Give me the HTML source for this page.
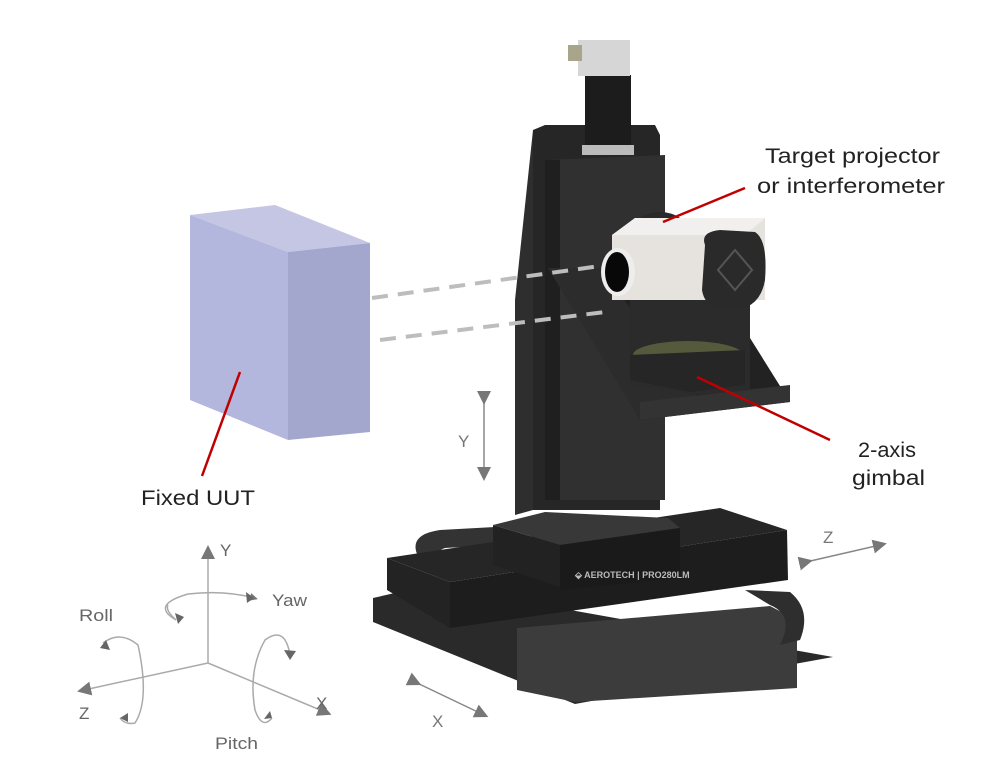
<!DOCTYPE html>
<html><head><meta charset="utf-8"><style>
html,body{margin:0;padding:0;background:#fff;}
svg{display:block;font-family:"Liberation Sans",sans-serif;}
</style></head><body>
<svg width="1000" height="762" viewBox="0 0 1000 762" xmlns="http://www.w3.org/2000/svg">
<defs>
<marker id="ah" markerWidth="8" markerHeight="8" refX="4" refY="4" orient="auto" markerUnits="userSpaceOnUse">
<path d="M0,0 L8,4 L0,8 z" fill="#777"/></marker>
<marker id="ahb" markerWidth="14" markerHeight="14" refX="7" refY="7" orient="auto" markerUnits="userSpaceOnUse">
<path d="M0,0 L14,7 L0,14 z" fill="#777"/></marker>
</defs>

<!-- UUT box -->
<polygon points="190,215 275,205 370,243 288,252" fill="#c4c6e4"/>
<polygon points="190,215 288,252 288,440 190,400" fill="#b3b6dd"/>
<polygon points="288,252 370,243 370,432 288,440" fill="#a4a7cd"/>

<!-- base lower plate -->
<polygon points="373,598 430,585 833,657 575,704 373,622" fill="#2a2a2a"/>
<polygon points="517,628 770,606 797,620 797,688 575,702 517,690" fill="#3c3c3c"/>
<!-- cable loops -->
<path d="M420,560 Q405,535 440,530 L495,527 L495,545 L445,548 Q432,552 440,565 Z" fill="#333"/>
<path d="M745,590 L790,592 Q812,610 800,640 L780,645 Q795,615 770,605 Z" fill="#2e2e2e"/>
<!-- Z stage slab -->
<polygon points="387,558 720,508 787,530 450,582" fill="#262626"/>
<polygon points="450,582 787,530 788,580 450,628" fill="#1d1d1d"/>
<polygon points="387,558 450,582 450,628 387,590" fill="#232323"/>

<!-- column -->
<polygon points="533,130 545,125 655,125 660,135 660,510 533,510" fill="#262626"/>
<polygon points="515,300 533,130 533,510 515,515" fill="#2e2e2e"/>
<polygon points="545,160 665,155 665,500 545,500" fill="#303030"/>
<polygon points="545,160 560,160 560,500 545,500" fill="#1f1f1f"/>
<!-- carriage on slab -->
<polygon points="493,525 545,512 668,518 680,528 560,545" fill="#383838"/>
<polygon points="493,525 560,545 560,587 493,565" fill="#222"/>
<polygon points="560,545 680,528 680,578 560,590" fill="#1a1a1a"/>
<text x="575" y="578" font-size="9" fill="#bbb" font-weight="bold">⬙ AEROTECH | PRO280LM</text>

<!-- motor -->
<rect x="585" y="75" width="46" height="72" fill="#1c1c1c"/>
<rect x="582" y="145" width="52" height="10" fill="#bbb"/>
<rect x="578" y="40" width="52" height="36" fill="#d6d6d6"/>
<rect x="568" y="45" width="14" height="16" fill="#a8a58a"/>

<!-- bracket/platform -->
<polygon points="548,268 640,400 640,420 790,402 745,330 560,268" fill="#222"/>
<polygon points="548,268 600,268 700,400 640,420" fill="#2c2c2c"/>
<polygon points="640,402 790,385 790,402 640,420" fill="#333"/>

<!-- gimbal -->
<ellipse cx="660" cy="232" rx="28" ry="20" fill="#2a2a2a"/>
<polygon points="630,300 750,295 750,390 700,395 630,385" fill="#2b2b2b"/>
<ellipse cx="688" cy="355" rx="55" ry="14" fill="#555a3c"/>
<polygon points="630,355 745,350 745,385 690,392 630,380" fill="#262626"/>

<!-- projector -->
<polygon points="612,235 635,218 765,218 765,300 612,300" fill="#e6e3df"/>
<polygon points="612,235 635,218 765,218 745,235" fill="#f2f0ee"/>
<ellipse cx="618" cy="272" rx="17" ry="24" fill="#eee"/>
<ellipse cx="617" cy="272" rx="12" ry="20" fill="#080808"/>
<path d="M705,245 Q700,232 720,230 L755,232 Q768,240 765,280 Q760,310 730,310 Q705,310 702,290 Z" fill="#2a2a2a"/>
<polygon points="735,250 752,270 735,290 718,270" fill="none" stroke="#555" stroke-width="2"/>

<!-- dashed beams -->
<line x1="372" y1="298" x2="600" y2="266" stroke="#bdbdbd" stroke-width="4" stroke-dasharray="16,10"/>
<line x1="380" y1="340" x2="605" y2="312" stroke="#bdbdbd" stroke-width="4" stroke-dasharray="16,10"/>

<!-- red leaders -->
<line x1="240" y1="372" x2="202" y2="476" stroke="#c00000" stroke-width="2.5"/>
<line x1="745" y1="188" x2="663" y2="222" stroke="#c00000" stroke-width="2.5"/>
<line x1="697" y1="377" x2="830" y2="440" stroke="#c00000" stroke-width="2.5"/>

<!-- labels -->
<g font-size="21" fill="#222">
<text x="765" y="163" textLength="175" lengthAdjust="spacingAndGlyphs">Target projector</text>
<text x="757" y="193" textLength="188" lengthAdjust="spacingAndGlyphs">or interferometer</text>
<text x="858" y="457" textLength="58" lengthAdjust="spacingAndGlyphs">2-axis</text>
<text x="852" y="485" textLength="73" lengthAdjust="spacingAndGlyphs">gimbal</text>
<text x="141" y="505" textLength="114" lengthAdjust="spacingAndGlyphs">Fixed UUT</text>
</g>

<!-- motion arrows -->
<g stroke="#888" stroke-width="1.5" fill="none">
<line x1="484" y1="398" x2="484" y2="474" marker-start="url(#ahb)" marker-end="url(#ahb)"/>
<line x1="806" y1="562" x2="880" y2="545" marker-start="url(#ahb)" marker-end="url(#ahb)"/>
<line x1="415" y1="682" x2="482" y2="714" marker-start="url(#ahb)" marker-end="url(#ahb)"/>
</g>
<g font-size="17" fill="#777">
<text x="458" y="447">Y</text>
<text x="823" y="543">Z</text>
<text x="432" y="727">X</text>
</g>

<!-- axes diagram -->
<g stroke="#aaa" stroke-width="1.5" fill="none">
<line x1="208" y1="663" x2="208" y2="552" marker-end="url(#ahb)"/>
<line x1="208" y1="663" x2="84" y2="690" marker-end="url(#ahb)"/>
<line x1="208" y1="663" x2="325" y2="712" marker-end="url(#ahb)"/>
<path d="M176,620 Q150,605 188,594 Q225,590 254,598" marker-end="url(#ah)"/>
<path d="M176,620 Q165,610 168,605"/>
<path d="M103,643 Q120,630 138,645 Q150,700 135,723 Q125,725 120,718" />
<path d="M290,655 Q285,625 265,640 Q248,670 255,710 Q262,730 272,718"/>
</g>
<g fill="#666">
<polygon points="254,598 246,592 247,603"/>
<polygon points="178,624 175,613 184,617"/>
<polygon points="100,648 106,640 110,650"/>
<polygon points="120,718 128,713 128,722"/>
<polygon points="290,660 284,650 296,651"/>
<polygon points="272,718 264,719 270,711"/>
</g>
<g font-size="17" fill="#666">
<text x="220" y="556">Y</text>
<text x="272" y="606" textLength="35" lengthAdjust="spacingAndGlyphs">Yaw</text>
<text x="79" y="621" textLength="34" lengthAdjust="spacingAndGlyphs">Roll</text>
<text x="79" y="719">Z</text>
<text x="316" y="709">X</text>
<text x="215" y="749" textLength="43" lengthAdjust="spacingAndGlyphs">Pitch</text>
</g>
</svg>
</body></html>
